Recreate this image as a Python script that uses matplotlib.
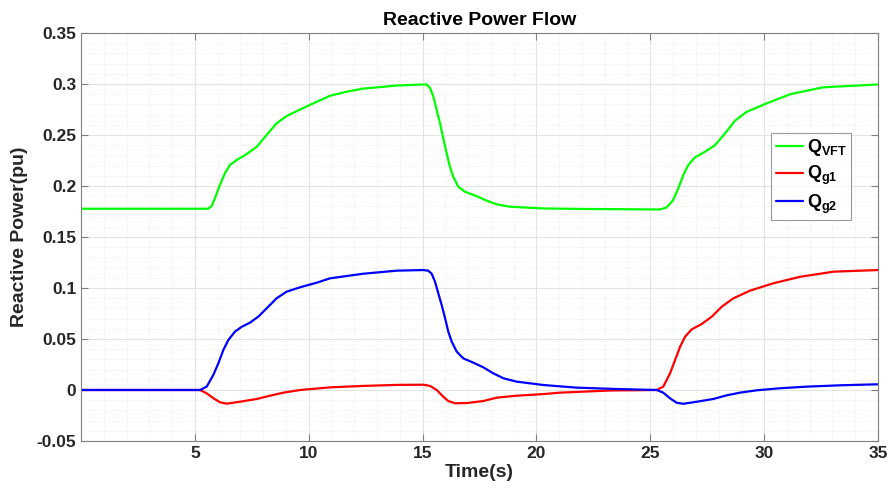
import matplotlib
matplotlib.use("Agg")
import matplotlib.pyplot as plt
from matplotlib.ticker import MultipleLocator

plt.rcParams['font.family'] = ['Liberation Sans', 'DejaVu Sans']
plt.rcParams['mathtext.fontset'] = 'custom'
plt.rcParams['mathtext.rm'] = 'Liberation Sans:bold'
plt.rcParams['mathtext.bf'] = 'Liberation Sans:bold'
plt.rcParams['mathtext.it'] = 'Liberation Sans:bold'

# ---- data ----
t_vft = [0, 5.59, 5.74, 5.88, 6.1, 6.32, 6.54, 6.84, 7.28, 7.72, 8.15, 8.59, 9.03, 9.62, 10.2,
         10.94, 11.67, 12.4, 13.86, 15.0, 15.18, 15.33, 15.47, 15.62, 15.77, 15.91, 16.06, 16.2,
         16.35, 16.57, 16.86, 17.38, 17.82, 18.26, 18.84, 20.3, 22.0, 25.43, 25.72, 26.0, 26.23,
         26.45, 26.67, 26.96, 27.4, 27.84, 28.28, 28.72, 29.23, 30.11, 31.14, 32.6, 35]
q_vft = [0.1777, 0.1777, 0.1804, 0.1879, 0.201, 0.2124, 0.2206, 0.2255, 0.2314, 0.2385, 0.25, 0.2614,
         0.2686, 0.275, 0.281, 0.2885, 0.2925, 0.2955, 0.2985, 0.2995, 0.2995, 0.296, 0.288, 0.2745,
         0.2613, 0.2466, 0.232, 0.219, 0.209, 0.1993, 0.1944, 0.190, 0.1856, 0.182, 0.1797, 0.178,
         0.1775, 0.177, 0.179, 0.186, 0.1977, 0.2108, 0.2206, 0.228, 0.2336, 0.24, 0.2515, 0.264,
         0.2727, 0.281, 0.290, 0.2968, 0.2995]

t_g1 = [0, 5.23, 5.52, 5.81, 6.1, 6.4, 6.98, 7.72, 8.3, 8.89, 9.62, 10.94, 12.4, 13.86, 15.03,
        15.33, 15.62, 15.91, 16.13, 16.42, 16.94, 17.67, 18.26, 19.13, 20.3, 21.04, 23.23, 25.28,
        25.57, 25.87, 26.09, 26.31, 26.53, 26.82, 27.26, 27.7, 28.14, 28.65, 29.38, 30.4, 31.58,
        33.04, 35]
q_g1 = [0, 0, -0.0033, -0.008, -0.012, -0.0134, -0.0115, -0.0088, -0.0056, -0.0026, 0.0, 0.0026,
        0.0040, 0.0050, 0.0052, 0.004, 0.0, -0.0066, -0.0108, -0.013, -0.0128, -0.0108, -0.0075,
        -0.0056, -0.004, -0.0026, -0.0005, 0.0, 0.0033, 0.0164, 0.0294, 0.0425, 0.0523, 0.0595,
        0.0647, 0.0719, 0.0817, 0.0899, 0.0974, 0.1046, 0.111, 0.116, 0.1176]

t_g2 = [0, 5.23, 5.52, 5.81, 6.03, 6.25, 6.47, 6.76, 7.06, 7.42, 7.79, 8.15, 8.59, 9.03, 9.62,
        10.35, 10.94, 12.4, 13.86, 15.03, 15.25, 15.4, 15.55, 15.69, 15.84, 15.99, 16.13, 16.28,
        16.5, 16.79, 17.23, 17.67, 18.1, 18.55, 19.13, 20.3, 21.77, 23.5, 25.28, 25.57, 25.87,
        26.16, 26.45, 27.04, 27.77, 28.36, 28.94, 29.67, 30.7, 31.87, 33.33, 35]
q_g2 = [0, 0, 0.0033, 0.0147, 0.026, 0.0392, 0.049, 0.0572, 0.062, 0.066, 0.072, 0.080, 0.0899,
        0.0964, 0.1007, 0.1052, 0.1095, 0.114, 0.117, 0.1176, 0.117, 0.114, 0.106, 0.0948, 0.0833,
        0.0703, 0.0572, 0.0474, 0.0376, 0.031, 0.0268, 0.0222, 0.0164, 0.0115, 0.0082, 0.0049,
        0.0023, 0.001, 0.0, -0.0026, -0.0082, -0.0125, -0.0135, -0.0115, -0.0088, -0.0052, -0.0026,
        -0.0003, 0.0017, 0.0033, 0.0046, 0.0056]

labels = [r'$\mathbf{Q}_{\mathbf{VFT}}$', r'$\mathbf{Q}_{\mathbf{g1}}$', r'$\mathbf{Q}_{\mathbf{g2}}$']
colors = ['#00FF00', '#FF0000', '#0000FF']
xticks = [5, 10, 15, 20, 25, 30, 35]
yticks = [-0.05, 0, 0.05, 0.1, 0.15, 0.2, 0.25, 0.3, 0.35]
yticklabels = ['-0.05', '0', '0.05', '0.1', '0.15', '0.2', '0.25', '0.3', '0.35']

fig = plt.figure(figsize=(8.91, 4.95), dpi=100)
ax = fig.add_axes([0.0909, 0.1091, 0.8945, 0.8242])

for t, q, lab, c in zip([t_vft, t_g1, t_g2], [q_vft, q_g1, q_g2], labels, colors):
    ax.plot(t, q, color=c, lw=1.6, label=lab, solid_joinstyle='round', solid_capstyle='round')

ax.set_xlim(0, 35)
ax.set_ylim(-0.05, 0.35)
ax.set_xticks(xticks)
ax.set_yticks(yticks)
ax.set_yticklabels(yticklabels)
ax.xaxis.set_minor_locator(MultipleLocator(1))
ax.yaxis.set_minor_locator(MultipleLocator(0.01))
ax.grid(True, which='major', color='#e3e3e3', lw=0.8, ls='-')
ax.grid(True, which='minor', color='#e8e8e8', lw=0.6, ls=':')
ax.set_axisbelow(True)
ax.tick_params(which='major', direction='in', length=5, top=True, right=True,
               color='#808080', labelsize=12.5, labelcolor='#262626')
ax.tick_params(which='minor', length=0)
for lab in ax.get_xticklabels() + ax.get_yticklabels():
    lab.set_fontweight('bold')
for s in ax.spines.values():
    s.set_color('#808080')
    s.set_linewidth(0.8)

ax.set_title('Reactive Power Flow', fontsize=14, fontweight='bold', pad=6)
ax.set_xlabel('Time(s)', fontsize=14, fontweight='bold', color='#262626', labelpad=2)
ax.set_ylabel('Reactive Power(pu)', fontsize=14, fontweight='bold', color='#262626', labelpad=6)

leg = ax.legend(loc='upper right', bbox_to_anchor=(0.966, 0.755), fontsize=13,
                frameon=True, fancybox=False, edgecolor='#808080', handlelength=1.5,
                handletextpad=0.2, borderpad=0.25, labelspacing=0.3, borderaxespad=0)
leg.get_frame().set_linewidth(0.8)

fig.savefig('out.png', dpi=100)
